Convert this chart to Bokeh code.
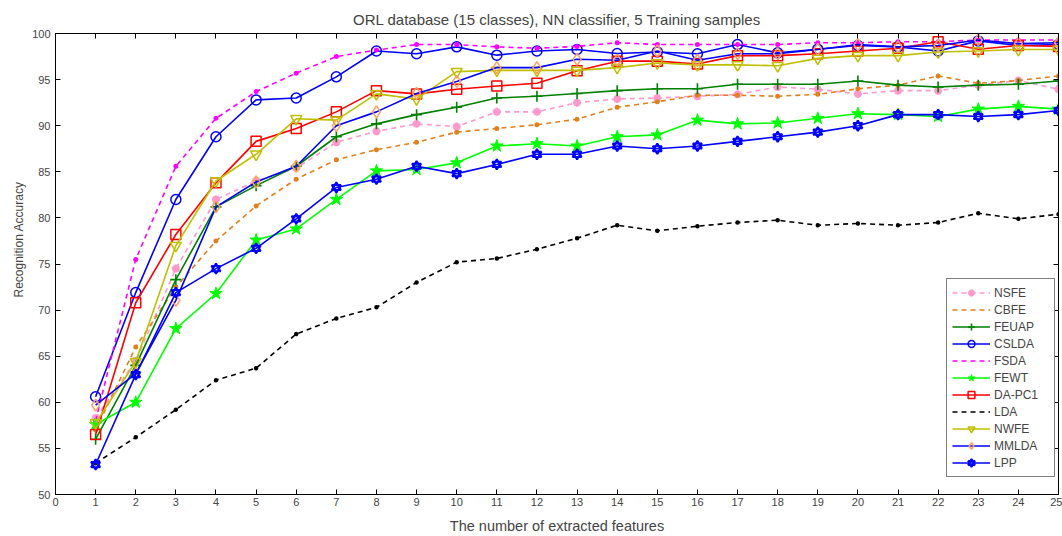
from bokeh.plotting import figure
from bokeh.models import (Range1d, FixedTicker, LinearAxis, Legend, LegendItem, Title)
from bokeh.embed import file_html
from bokeh.resources import INLINE

features = list(range(1, 26))

NSFE = [58.3, 64.5, 74.5, 82.0, 84.0, 85.4, 88.2, 89.4, 90.2, 89.9, 91.5, 91.5, 92.5, 92.9, 93.0,
        93.2, 93.4, 94.2, 93.95, 93.45, 93.8, 93.8, 94.4, 94.9, 93.95]
CBFE = [57.0, 66.0, 72.5, 77.5, 81.3, 84.2, 86.3, 87.4, 88.2, 89.3, 89.7, 90.1, 90.7, 92.0, 92.6,
        93.3, 93.3, 93.2, 93.4, 94.0, 94.4, 95.4, 94.6, 94.9, 95.4]
FEUAP = [56.0, 64.0, 73.3, 81.2, 83.5, 85.6, 88.8, 90.2, 91.2, 92.0, 93.0, 93.2, 93.5, 93.8, 94.0,
         94.0, 94.5, 94.5, 94.5, 94.85, 94.4, 94.2, 94.4, 94.5, 94.85]
CSLDA = [60.6, 71.9, 82.0, 88.8, 92.8, 93.0, 95.3, 98.1, 97.8, 98.55, 97.65, 98.1, 98.27, 97.83, 98.0,
         97.8, 98.8, 97.9, 98.3, 98.7, 98.55, 98.1, 99.2, 98.7, 98.8]
FSDA = [58.0, 75.5, 85.6, 90.8, 93.7, 95.7, 97.5, 98.2, 98.8, 98.8, 98.55, 98.4, 98.6, 99.0, 98.8,
        98.8, 98.8, 98.8, 99.0, 99.0, 99.1, 99.1, 99.3, 99.3, 99.3]
FEWT = [57.6, 60.0, 68.0, 71.8, 77.6, 78.8, 82.0, 85.1, 85.25, 85.97, 87.8, 88.05, 87.8, 88.8, 89.0,
        90.6, 90.2, 90.3, 90.8, 91.3, 91.2, 91.0, 91.8, 92.1, 91.8]
DAPC1 = [56.5, 70.8, 78.2, 83.8, 88.3, 89.7, 91.5, 93.8, 93.45, 93.95, 94.3, 94.6, 95.96, 97.0, 97.0,
         96.7, 97.6, 97.6, 97.8, 98.1, 98.4, 99.1, 98.3, 98.7, 98.6]
LDA = [53.4, 56.2, 59.2, 62.4, 63.7, 67.4, 69.1, 70.3, 73.0, 75.2, 75.6, 76.6, 77.8, 79.2, 78.6,
       79.1, 79.5, 79.75, 79.2, 79.4, 79.2, 79.5, 80.5, 79.9, 80.4]
NWFE = [57.75, 64.4, 77.0, 84.0, 86.9, 90.75, 90.6, 93.45, 92.9, 95.86, 96.0, 96.0, 96.0, 96.3, 96.8,
        96.6, 96.6, 96.5, 97.3, 97.6, 97.6, 98.0, 98.1, 98.27, 98.27]
MMLDA = [59.7, 63.1, 71.05, 81.2, 83.9, 85.6, 90.0, 91.5, 93.5, 94.8, 96.3, 96.3, 97.2, 97.1, 98.1,
         97.1, 97.8, 97.8, 98.27, 98.8, 98.55, 98.7, 99.3, 98.9, 99.0]
LPP = [53.25, 63.0, 71.9, 74.5, 76.7, 79.9, 83.3, 84.2, 85.6, 84.8, 85.8, 86.9, 86.9, 87.8, 87.5,
       87.8, 88.3, 88.8, 89.3, 90.0, 91.2, 91.2, 91.0, 91.2, 91.65]

x_ticks = list(range(0, 26))
y_ticks = list(range(50, 101, 5))

FONT = "Liberation Sans"

p = figure(width=1062, height=536, output_backend="svg", toolbar_location=None,
           x_range=Range1d(0, 25), y_range=Range1d(50, 100),
           min_border_left=55, min_border_right=4, min_border_top=33, min_border_bottom=39,
           title="ORL database (15 classes), NN classifier, 5 Training samples")
p.grid.visible = False
p.outline_line_color = "black"
p.outline_line_width = 1
p.title.align = "center"
p.title.text_font = FONT
p.title.text_font_size = "15px"
p.title.text_font_style = "normal"
p.title.standoff = 11

for ax in (p.xaxis[0], p.yaxis[0]):
    ax.major_tick_in = 5
    ax.major_tick_out = 0
    ax.minor_tick_line_color = None
    ax.major_label_text_font = FONT
    ax.major_label_text_font_size = "11px"
    ax.axis_label_text_font = FONT
    ax.axis_label_text_font_style = "normal"
    ax.axis_line_color = "black"
    ax.major_tick_line_color = "black"

p.xaxis.ticker = FixedTicker(ticks=x_ticks)
p.yaxis.ticker = FixedTicker(ticks=y_ticks)
p.xaxis.axis_label = "The number of extracted features"
p.xaxis.axis_label_text_font_size = "14.5px"
p.xaxis.major_label_standoff = 3
p.yaxis.major_label_standoff = 5
p.xaxis.axis_label_standoff = 9

top = LinearAxis(ticker=FixedTicker(ticks=x_ticks), major_tick_in=5, major_tick_out=0,
                 minor_tick_line_color=None, major_label_text_font_size="0px",
                 major_label_text_alpha=0, major_label_standoff=0)
right = LinearAxis(ticker=FixedTicker(ticks=y_ticks), major_tick_in=5, major_tick_out=0,
                   minor_tick_line_color=None, major_label_text_font_size="0px",
                   major_label_text_alpha=0, major_label_standoff=0)
p.add_layout(top, "above")
p.add_layout(right, "right")

ylab = Title(text="Recognition Accuracy", align="left", offset=197, standoff=7,
             text_font=FONT, text_font_size="12px", text_font_style="normal")
p.add_layout(ylab, "left")

items = []

def series(name, ys, color, dash, markers, mcolor=None, msize=9, mfill=False, lw=1.6, mlw=1.5,
           legend_markers=True):
    mcolor = mcolor or color
    line = p.line(features, ys, line_color=color, line_width=lw, line_dash=dash)
    rs = [line]
    for m in markers:
        kw = dict(marker=m, size=msize, line_color=mcolor, line_width=mlw)
        kw["fill_color"] = mcolor if mfill else None
        r = p.scatter(features, ys, **kw)
        if legend_markers:
            rs.append(r)
    items.append(LegendItem(label=name, renderers=rs))

series("NSFE", NSFE, "#FF99CC", "5 4", ["asterisk"], msize=8, mlw=2.5)
series("CBFE", CBFE, "#E0801E", "5 4", ["circle"], msize=3.5, mfill=True, legend_markers=False)
series("FEUAP", FEUAP, "#008000", "solid", ["cross"], msize=11, mlw=1.6)
series("CSLDA", CSLDA, "#0000FF", "solid", ["circle"], msize=10, mlw=1.5)
series("FSDA", FSDA, "#FF00FF", "5 4", ["circle"], msize=3.5, mfill=True, legend_markers=False)
series("FEWT", FEWT, "#00FF00", "solid", ["star"], msize=13, mfill=True, mlw=1)
series("DA-PC1", DAPC1, "#FF0000", "solid", ["square"], msize=10, mlw=1.5)
series("LDA", LDA, "#000000", "5 4", ["circle"], msize=3, mfill=True, legend_markers=False)
series("NWFE", NWFE, "#BFBF00", "solid", ["inverted_triangle"], msize=11, mlw=1.5)
series("MMLDA", MMLDA, "#0000FF", "solid", ["diamond"], mcolor="#FFA060", msize=12, mlw=1.5)
series("LPP", LPP, "#0000FF", "solid", ["triangle", "inverted_triangle"], msize=9, mlw=2)

legend = Legend(items=items, location=(891, 17), orientation="vertical",
                label_text_font=FONT, label_text_font_size="12px",
                glyph_width=38, glyph_height=17, label_height=17, label_width=55,
                label_standoff=4, spacing=0, padding=5, margin=0,
                border_line_color="black", border_line_width=1,
                background_fill_color="white", background_fill_alpha=1)
p.add_layout(legend, "center")

open("out.html", "w").write(file_html(p, INLINE))
